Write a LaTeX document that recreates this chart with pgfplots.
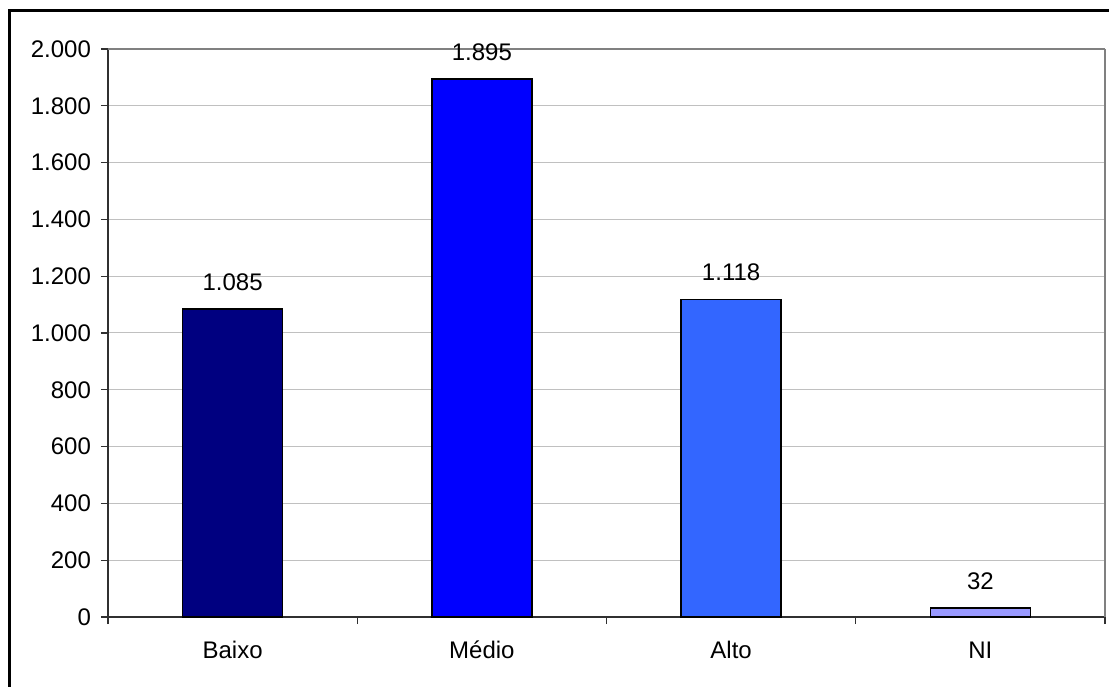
\documentclass[border=0pt]{standalone}
\usepackage{pgfplots}
\pgfplotsset{compat=1.18}
\usepackage{fontspec}
\setmainfont{Liberation Sans}
\definecolor{cBaixo}{HTML}{000080}
\definecolor{cMedio}{HTML}{0000FF}
\definecolor{cAlto}{HTML}{3366FF}
\definecolor{cNI}{HTML}{9999FF}
\definecolor{gridgray}{HTML}{C0C0C0}
\definecolor{bordergray}{HTML}{808080}
\definecolor{axisgray}{HTML}{303030}
\begin{document}
\begin{tikzpicture}
\useasboundingbox (0pt,0pt) rectangle (554.5pt,343pt);
\draw[line width=1.25pt] (4.75pt,-15pt) -- (4.75pt,337.75pt) -- (570pt,337.75pt);
\begin{axis}[
  at={(54pt,34.5pt)}, anchor=south west,
  scale only axis, width=498.5pt, height=284pt,
  ymin=0, ymax=2000, xmin=-0.5, xmax=3.5,
  ytick={0,200,...,2000},
  xtick={-0.5,0.5,1.5,2.5,3.5}, xticklabels={},
  extra x ticks={0,1,2,3},
  extra x tick labels={Baixo,Médio,Alto,NI},
  extra x tick style={major tick length=0pt, grid=none,
     xticklabel style={yshift=-8.5pt, text height=8.6pt, text depth=0pt}},
  yticklabel style={xshift=-1.5pt},
  ymajorgrids, grid style={color=gridgray, line width=0.5pt},
  axis x line*=bottom, axis y line*=left,
  axis line style={color=axisgray, line width=0.6pt},
  tick style={color=axisgray, line width=0.6pt},
  tick align=outside, major tick length=3.5pt,
  font=\fontsize{12}{14.4}\selectfont,
  ybar, bar width=50pt, bar shift=0pt,
  nodes near coords,
  nodes near coords style={anchor=south, yshift=5.5pt, color=black},
  /pgf/number format/assume math mode=true,
  /pgf/number format/1000 sep={.},
  clip=false,
]
\addplot[fill=cBaixo, draw=black, line width=0.8pt] coordinates {(0,1085)};
\addplot[fill=cMedio, draw=black, line width=0.8pt] coordinates {(1,1895)};
\addplot[fill=cAlto, draw=black, line width=0.8pt] coordinates {(2,1118)};
\addplot[fill=cNI, draw=black, line width=0.8pt] coordinates {(3,32)};
\draw[color=bordergray, line width=0.6pt] (rel axis cs:0,1) -- (rel axis cs:1,1);
\draw[color=bordergray, line width=1pt] (rel axis cs:1,1) -- (rel axis cs:1,0);
\end{axis}
\end{tikzpicture}
\end{document}
